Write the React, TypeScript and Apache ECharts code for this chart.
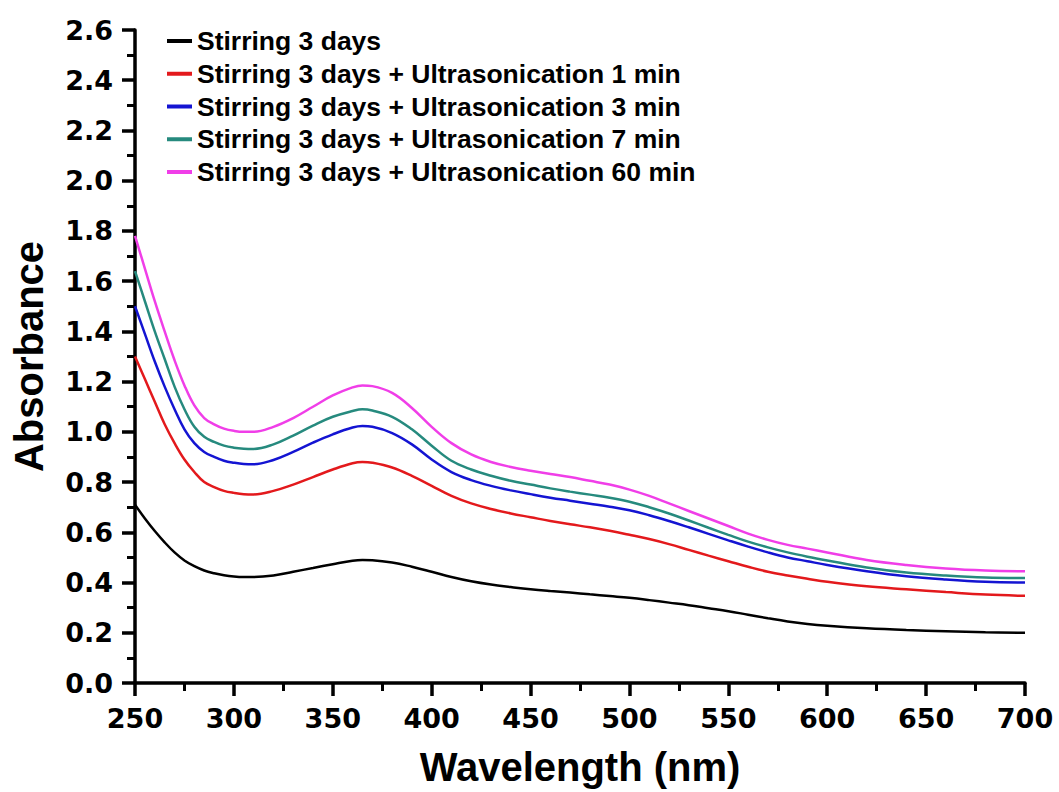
import React, { useEffect, useRef } from "react";
import * as echarts from "echarts";

const wavelengths = [250, 255, 260, 265, 270, 275, 280, 285, 290, 295, 300, 305, 310, 320, 330, 340, 350, 360, 365, 370, 380, 390, 400, 410, 420, 430, 440, 450, 460, 470, 480, 490, 500, 510, 520, 530, 540, 550, 560, 570, 580, 590, 600, 620, 640, 660, 680, 700];

const stirring = [0.71, 0.655, 0.605, 0.56, 0.52, 0.488, 0.465, 0.448, 0.437, 0.429, 0.424, 0.422, 0.422,
  0.428, 0.443, 0.458, 0.473, 0.487, 0.49, 0.489, 0.48, 0.463, 0.443,
  0.422, 0.405, 0.392, 0.382, 0.373, 0.366, 0.36, 0.353, 0.346, 0.339, 0.33, 0.32, 0.31, 0.298, 0.286, 0.272, 0.258, 0.245, 0.235, 0.228,
  0.218, 0.211, 0.206, 0.202, 0.20];
const ultra1 = [1.30, 1.21, 1.12, 1.03, 0.955, 0.89, 0.84, 0.80, 0.78, 0.765, 0.757, 0.752, 0.751,
  0.765, 0.79, 0.82, 0.85, 0.875, 0.88, 0.877, 0.858, 0.825, 0.785,
  0.745, 0.715, 0.693, 0.675, 0.66, 0.645, 0.632, 0.62, 0.606, 0.59, 0.573, 0.553, 0.53, 0.507, 0.485, 0.463, 0.443, 0.428, 0.415, 0.403,
  0.385, 0.373, 0.362, 0.352, 0.347];
const ultra3 = [1.50, 1.39, 1.28, 1.18, 1.09, 1.01, 0.955, 0.92, 0.90, 0.885, 0.877, 0.872, 0.871,
  0.888, 0.92, 0.957, 0.99, 1.017, 1.023, 1.02, 0.995, 0.95, 0.89,
  0.84, 0.808, 0.785, 0.767, 0.752, 0.738, 0.726, 0.714, 0.702, 0.688, 0.668, 0.645, 0.62, 0.594, 0.568, 0.543, 0.52, 0.50, 0.485, 0.47,
  0.445, 0.425, 0.412, 0.403, 0.40];
const ultra7 = [1.64, 1.52, 1.40, 1.29, 1.18, 1.09, 1.02, 0.98, 0.96, 0.945, 0.937, 0.933, 0.932,
  0.95, 0.985, 1.025, 1.06, 1.083, 1.09, 1.085, 1.06, 1.01, 0.945,
  0.885, 0.85, 0.825, 0.805, 0.79, 0.775, 0.762, 0.75, 0.738, 0.722, 0.70, 0.675, 0.647, 0.618, 0.59, 0.563, 0.54, 0.52, 0.503, 0.488,
  0.46, 0.44, 0.428, 0.42, 0.418];
const ultra60 = [1.78, 1.65, 1.52, 1.40, 1.285, 1.185, 1.105, 1.055, 1.03, 1.013, 1.004, 1.0, 1.0,
  1.02, 1.055, 1.10, 1.145, 1.177, 1.185, 1.182, 1.155, 1.095, 1.02,
  0.955, 0.91, 0.88, 0.86, 0.845, 0.832, 0.82, 0.805, 0.79, 0.77, 0.745, 0.715, 0.685, 0.655, 0.625, 0.595, 0.57, 0.55, 0.535, 0.52,
  0.49, 0.47, 0.456, 0.448, 0.445];

const seriesNames = [
  "Stirring 3 days",
  "Stirring 3 days + Ultrasonication 1 min",
  "Stirring 3 days + Ultrasonication 3 min",
  "Stirring 3 days + Ultrasonication 7 min",
  "Stirring 3 days + Ultrasonication 60 min",
];
const seriesValues = [stirring, ultra1, ultra3, ultra7, ultra60];
const seriesColors = ["#000000", "#e3191c", "#1414d2", "#268a7e", "#f03ee8"];

export default function App() {
  const ref = useRef<HTMLDivElement>(null);
  useEffect(() => {
    if (!ref.current) return;
    const chart = echarts.init(ref.current, undefined, { renderer: "svg" });
    const tickFont = { fontFamily: "DejaVu Sans", fontWeight: "bold" as const, fontSize: 27, color: "#000" };
    chart.setOption({
      animation: false,
      backgroundColor: "#fff",
      grid: { left: 135, right: 34, top: 30, bottom: 109, containLabel: false },
      legend: {
        orient: "vertical",
        left: 162,
        top: 21,
        itemWidth: 25,
        itemHeight: 4,
        itemGap: 2.75,
        icon: "rect",
        data: seriesNames,
        textStyle: { fontFamily: "Liberation Sans", fontWeight: "bold", fontSize: 26.5, lineHeight: 30, color: "#000" },
      },
      xAxis: {
        type: "value",
        min: 250,
        max: 700,
        interval: 50,
        name: "Wavelength (nm)",
        nameLocation: "middle",
        nameGap: 64,
        nameTextStyle: { fontFamily: "Liberation Sans", fontWeight: "bold", fontSize: 40, color: "#000" },
        axisLine: { show: true, lineStyle: { color: "#000", width: 3.5 } },
        axisTick: { show: true, length: 13, inside: false, lineStyle: { color: "#000", width: 3.5 } },
        minorTick: { show: true, splitNumber: 2, length: 8, lineStyle: { color: "#000", width: 3 } },
        axisLabel: { ...tickFont, margin: 22 },
        splitLine: { show: false },
      },
      yAxis: {
        type: "value",
        min: 0,
        max: 2.6,
        interval: 0.2,
        name: "Absorbance",
        nameLocation: "middle",
        nameGap: 86,
        nameTextStyle: { fontFamily: "Liberation Sans", fontWeight: "bold", fontSize: 40, color: "#000" },
        axisLine: { show: true, lineStyle: { color: "#000", width: 3.5 } },
        axisTick: { show: true, length: 13, inside: false, lineStyle: { color: "#000", width: 3.5 } },
        minorTick: { show: true, splitNumber: 2, length: 8, lineStyle: { color: "#000", width: 3 } },
        axisLabel: { ...tickFont, margin: 22, formatter: (v: number) => v.toFixed(1) },
        splitLine: { show: false },
      },
      series: seriesNames.map((name, i) => ({
        name,
        type: "line",
        smooth: 0.4,
        showSymbol: false,
        symbol: "none",
        color: seriesColors[i],
        lineStyle: { color: seriesColors[i], width: 2.5 },
        data: wavelengths.map((w, j) => [w, seriesValues[i][j]]),
      })),
    });
    return () => chart.dispose();
  }, []);
  return <div ref={ref} style={{ position: "fixed", left: 0, top: 0, width: 1059, height: 792 }} />;
}
